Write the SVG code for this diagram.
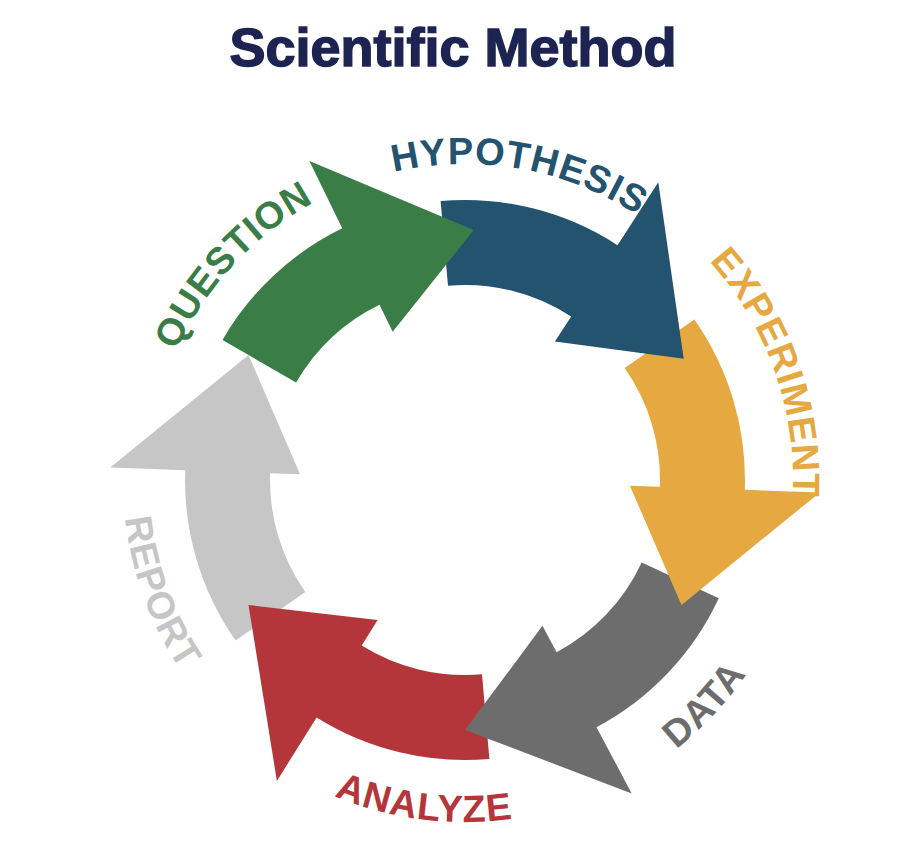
<svg xmlns="http://www.w3.org/2000/svg" xmlns:xlink="http://www.w3.org/1999/xlink" width="906" height="866" viewBox="0 0 906 866">
<style>
.lbl{font-family:"Liberation Sans",Arial,sans-serif;font-weight:bold;font-size:38px;letter-spacing:1px}
.title{font-family:"Liberation Sans",Arial,sans-serif;font-weight:bold;font-size:54px;fill:#1d2452;stroke:#1d2452;stroke-width:1.5}
</style>
<defs>
<path id="cw" d="M149,480 A316,316 0 1 1 781,480 A316,316 0 1 1 149,480"/>
<path id="cw2" d="M137,480 A328,328 0 1 1 793,480 A328,328 0 1 1 137,480"/>
<path id="ccw" d="M465,138 A342,342 0 1 0 465,822 A342,342 0 1 0 465,138"/>
</defs>
<rect width="906" height="866" fill="#fff"/>
<text class="title" x="453" y="66" text-anchor="middle">Scientific Method</text>
<g id="connectors">
<g id="report"><path fill="#c6c6c6" d="M235.6,640.6 A280,280 0 0 1 185.2,470.2 L110.2,467.6 L248.5,355 L300.1,474.2 L270.1,473.2 A195,195 0 0 0 305.3,591.9 Z"/></g>
<g id="analyze"><path fill="#b5363a" d="M489.4,758.9 A280,280 0 0 1 316.6,717.4 L276.9,781 L248.5,605 L377.6,619.9 L361.7,645.4 A195,195 0 0 0 482,674.3 Z"/></g>
<g id="data"><path fill="#6d6d6d" d="M718.8,598.3 A280,280 0 0 1 596.5,727.2 L631.7,793.4 L465,730 L542.5,625.7 L556.6,652.2 A195,195 0 0 0 641.7,562.4 Z"/></g>
<g id="experiment"><path fill="#e6a941" d="M694.4,319.4 A280,280 0 0 1 744.8,489.8 L819.8,492.4 L681.5,605 L629.9,485.8 L659.9,486.8 A195,195 0 0 0 624.7,368.1 Z"/></g>
<g id="hypothesis"><path fill="#23536e" d="M440.6,201.1 A280,280 0 0 1 617.5,245.2 L658.3,182.3 L683.7,358.8 L554.9,341.6 L571.2,316.5 A195,195 0 0 0 448,285.7 Z"/></g>
<g id="question"><path fill="#3a7d47" d="M222.5,340 A280,280 0 0 1 342.2,228.3 L309.4,160.9 L473.7,230.1 L392.7,331.7 L379.5,304.7 A195,195 0 0 0 296.1,382.5 Z"/></g>
</g>
<g id="labels">
<text class="lbl" fill="#3a7d47"><textPath xlink:href="#cw" startOffset="11.9%" text-anchor="middle">QUESTION</textPath></text>
<text class="lbl" fill="#23536e"><textPath xlink:href="#cw" startOffset="27.8%" text-anchor="middle">HYPOTHESIS</textPath></text>
<text class="lbl" fill="#e6a941"><textPath xlink:href="#cw2" startOffset="44.6%" text-anchor="middle">EXPERIMENT</textPath></text>
<text class="lbl" fill="#c6c6c6"><textPath xlink:href="#ccw" startOffset="30.6%" text-anchor="middle">REPORT</textPath></text>
<text class="lbl" fill="#b5363a"><textPath xlink:href="#ccw" startOffset="48%" text-anchor="middle">ANALYZE</textPath></text>
<text class="lbl" fill="#6d6d6d"><textPath xlink:href="#ccw" startOffset="63%" text-anchor="middle">DATA</textPath></text>
</g>
</svg>
